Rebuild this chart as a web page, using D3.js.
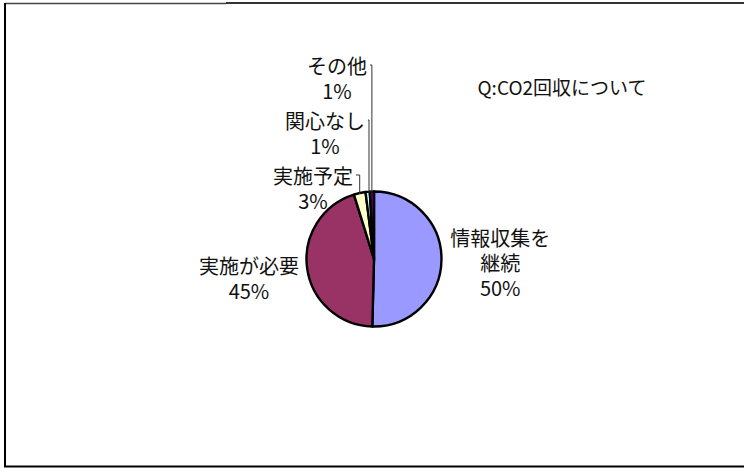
<!DOCTYPE html>
<html>
<head>
<meta charset="utf-8">
<script src="https://cdn.jsdelivr.net/npm/d3@7"></script>
<style>
  body { margin: 0; background: #fff; }
  svg { display: block; }
  text { font-family: "Noto Sans CJK JP", sans-serif; fill: #111; }
</style>
</head>
<body>
<svg id="chart" width="744" height="468"></svg>
<script>
// data
var categories = ["情報収集を\n継続", "実施が必要", "実施予定", "関心なし", "その他"];
var values = [50.4, 44.8, 2.8, 1.0, 1.0];
var colors = ["#9999FF", "#993366", "#FFFFCC", "#CCFFFF", "#660066"];
var title = "Q:CO2回収について";

var svg = d3.select("#chart");

// frame
svg.append("line").attr("x1", 5).attr("y1", 3.5).attr("x2", 226).attr("y2", 3.5)
  .attr("stroke", "#444").attr("stroke-width", 1.5);
svg.append("line").attr("x1", 226).attr("y1", 3).attr("x2", 744).attr("y2", 3)
  .attr("stroke", "#333").attr("stroke-width", 2);
svg.append("line").attr("x1", 5).attr("y1", 3).attr("x2", 5).attr("y2", 467)
  .attr("stroke", "#000").attr("stroke-width", 2);
svg.append("line").attr("x1", 4).attr("y1", 466.5).attr("x2", 744).attr("y2", 466.5)
  .attr("stroke", "#000").attr("stroke-width", 2);

svg.append("text").attr("x", 562).attr("y", 86)
  .attr("text-anchor", "middle").attr("dominant-baseline", "central")
  .style("font-size", "19px").text(title);

var cx = 374, cy = 259, r = 67.5;
var data = categories.map(function(c, i) { return {name: c, value: values[i], color: colors[i]}; });

var pie = d3.pie().sort(null).value(function(d) { return d.value; });
var arcs = pie(data);
var arc = d3.arc().innerRadius(0).outerRadius(r);

var g = svg.append("g").attr("transform", "translate(" + cx + "," + cy + ")");

g.selectAll("path").data(arcs).enter().append("path")
  .attr("d", arc)
  .attr("fill", function(d) { return d.data.color; })
  .attr("stroke", "#000")
  .attr("stroke-width", 2.4)
  .attr("stroke-linejoin", "round");

var total = d3.sum(values);
var lineH = 25;
var fs = 20;

function pct(d) { return Math.round(d.data.value / total * 100) + "%"; }

function drawLabel(lines, x, y) {
  var n = lines.length;
  var t = g.append("text").attr("text-anchor", "middle").style("font-size", fs + "px");
  lines.forEach(function(l, k) {
    t.append("tspan").attr("x", x).attr("y", y + (k - (n - 1) / 2) * lineH)
      .attr("dominant-baseline", "central").text(l);
  });
  return t;
}

var small = 0;
arcs.forEach(function(d) {
  var mid = (d.startAngle + d.endAngle) / 2;
  var share = d.data.value / total;
  var lines = d.data.name.split("\n").concat([pct(d)]);
  if (share > 0.1) {
    var lr = r * 1.87;
    drawLabel(lines, lr * Math.sin(mid), -lr * Math.cos(mid) + 2);
  } else {
    // small slices: stacked above the pie with leader lines
    var lx = -61 + small * 12;
    var ly = -r - 4 - small * 55;
    var t = drawLabel(lines, lx, ly);
    var bb = t.node().getBBox();
    var px = r * Math.sin(mid), py = -r * Math.cos(mid);
    var tickY = ly - lineH / 2;
    var vx = Math.max(px, bb.x + bb.width + 4);
    vx = Math.min(vx, -1 - (2 - small) * 1.5);
    g.append("path")
      .attr("d", "M" + (bb.x + bb.width + 3) + "," + tickY + "H" + vx + "V" + (py + 1))
      .attr("fill", "none").attr("stroke", "#333").attr("stroke-width", 1);
    small++;
  }
});
</script>
</body>
</html>
